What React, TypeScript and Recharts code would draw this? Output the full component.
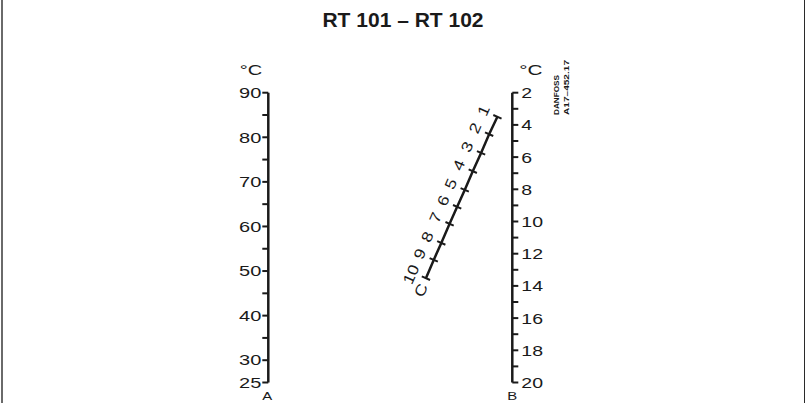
import React from 'react';
import { ComposedChart, Line, XAxis, YAxis, Customized } from 'recharts';

// Scale A (°C), left
const aTicks = [25, 30, 35, 40, 45, 50, 55, 60, 65, 70, 75, 80, 85, 90];
const aLabels = [25, 30, 40, 50, 60, 70, 80, 90];
// Scale B (°C), right
const bTicks = [2, 3, 4, 5, 6, 7, 8, 9, 10, 11, 12, 13, 14, 15, 16, 17, 18, 19, 20];
const bLabels = [2, 4, 6, 8, 10, 12, 14, 16, 18, 20];
// Scale C (diagonal), positions read in chart units: horizontal 0-100 between A and B, vertical in A units
const cValues = [1, 2, 3, 4, 5, 6, 7, 8, 9, 10];
const cPosX = [93.9, 90.5, 87.2, 83.8, 80.5, 77.4, 74.3, 70.9, 67.8, 64.6];
const cPosA = [84.6, 80.7, 76.5, 72.4, 68.2, 64.4, 60.6, 56.3, 52.5, 48.4];
const cData = cValues.map((c, i) => ({ c, x: cPosX[i], y: cPosA[i] }));

const INK = '#1a1a1a';
const FONT = "'Liberation Sans', Arial, Helvetica, sans-serif";
const C_ANGLE = -66.3;
const rad = (C_ANGLE * Math.PI) / 180;
const dir = { x: Math.cos(rad), y: Math.sin(rad) };
const nLeft = { x: dir.y, y: -dir.x };

const ATick = (props: any) => {
  const { x, y, payload } = props;
  const v = payload.value;
  return (
    <g fontFamily={FONT} fontSize={14.5} fill={INK}>
      {aLabels.includes(v) && (
        <text transform={`translate(${x},${y}) scale(1.38,1)`} textAnchor="end" dy="0.36em">
          {v}
        </text>
      )}
      {v === 90 && (
        <text transform={`translate(${x + 1},${y - 17.7}) scale(1.38,1)`} textAnchor="end">
          °C
        </text>
      )}
      {v === 25 && (
        <text
          transform={`translate(${x + 6},${y + 17.3}) scale(1.3,1)`}
          textAnchor="middle"
          fontSize={11.5}
        >
          A
        </text>
      )}
    </g>
  );
};

const BTick = (props: any) => {
  const { x, y, payload } = props;
  const v = payload.value;
  return (
    <g fontFamily={FONT} fontSize={15} fill={INK}>
      {bLabels.includes(v) && (
        <text transform={`translate(${x},${y}) scale(1.3,1)`} textAnchor="start" dy="0.36em">
          {v}
        </text>
      )}
      {v === 2 && (
        <text transform={`translate(${x - 2},${y - 17.7}) scale(1.38,1)`} textAnchor="start">
          °C
        </text>
      )}
      {v === 20 && (
        <text
          transform={`translate(${x - 9},${y + 17.3}) scale(1.3,1)`}
          textAnchor="middle"
          fontSize={11.5}
        >
          B
        </text>
      )}
    </g>
  );
};

const CDot = (props: any) => {
  const { cx, cy, payload, index } = props;
  if (cx == null || cy == null) return <g key={`c-${index}`} />;
  const half = 4.5;
  const along = payload.c === 10 ? -2.5 : 0;
  const lx = cx + 15.5 * nLeft.x + along * dir.x;
  const ly = cy + 15.5 * nLeft.y + along * dir.y;
  return (
    <g key={`c-${index}`} fontFamily={FONT} fontSize={15} fill={INK}>
      <line
        x1={cx - half * nLeft.x}
        y1={cy - half * nLeft.y}
        x2={cx + half * nLeft.x}
        y2={cy + half * nLeft.y}
        stroke={INK}
        strokeWidth={2}
      />
      <text
        transform={`translate(${lx},${ly}) rotate(${C_ANGLE}) scale(1.2,1)`}
        textAnchor="middle"
        dy="0.36em"
      >
        {payload.c}
      </text>
      {payload.c === 10 && (
        <text
          transform={`translate(${cx - 13 * dir.x},${cy - 13 * dir.y}) rotate(${C_ANGLE}) scale(1.2,1)`}
          textAnchor="middle"
          dy="0.36em"
        >
          C
        </text>
      )}
    </g>
  );
};

const Decorations = () => (
  <g fill={INK}>
    <text x={403} y={26.7} textAnchor="middle" fontFamily={FONT} fontWeight="bold" fontSize={21}>
      RT 101 – RT 102
    </text>
    <text
      transform="translate(558.5,115) rotate(-90)"
      fontFamily={FONT}
      fontWeight="bold"
      fontSize={8}
      textLength={40}
      lengthAdjust="spacingAndGlyphs"
    >
      DANFOSS
    </text>
    <text
      transform="translate(568.5,115) rotate(-90)"
      fontFamily={FONT}
      fontWeight="bold"
      fontSize={8}
      textLength={55}
      lengthAdjust="spacingAndGlyphs"
    >
      A17–452.17
    </text>
  </g>
);

export default function App() {
  return (
    <div style={{ position: 'absolute', left: 0, top: 0, width: 805, height: 403, background: '#fff' }}>
      <ComposedChart
        width={805}
        height={403}
        margin={{ top: 92.7, bottom: 20.5, left: 267.3, right: 291.7 }}
      >
        <XAxis xAxisId="cx" type="number" dataKey="x" domain={[0, 100]} hide allowDataOverflow />
        <YAxis
          yAxisId="A"
          orientation="left"
          type="number"
          domain={[25, 90]}
          ticks={aTicks}
          interval={0}
          width={1}
          tickSize={6}
          tickMargin={1}
          allowDataOverflow
          axisLine={{ stroke: INK, strokeWidth: 2.5 }}
          tickLine={{ stroke: INK, strokeWidth: 2 }}
          tick={ATick}
        />
        <YAxis
          yAxisId="B"
          orientation="right"
          type="number"
          domain={[2, 20]}
          reversed
          ticks={bTicks}
          interval={0}
          width={1}
          tickSize={6}
          tickMargin={3}
          allowDataOverflow
          axisLine={{ stroke: INK, strokeWidth: 2.5 }}
          tickLine={{ stroke: INK, strokeWidth: 2 }}
          tick={BTick}
        />
        <Line
          data={cData}
          xAxisId="cx"
          yAxisId="A"
          dataKey="y"
          type="linear"
          stroke={INK}
          strokeWidth={2.5}
          dot={CDot}
          activeDot={false}
          isAnimationActive={false}
        />
        <Customized component={Decorations} />
      </ComposedChart>
      <div style={{ position: 'absolute', left: 1, top: 0, width: 1.5, height: 403, background: '#6a6a6a' }} />
      <div style={{ position: 'absolute', left: 803.5, top: 0, width: 1.5, height: 403, background: '#2a2a2a' }} />
    </div>
  );
}
